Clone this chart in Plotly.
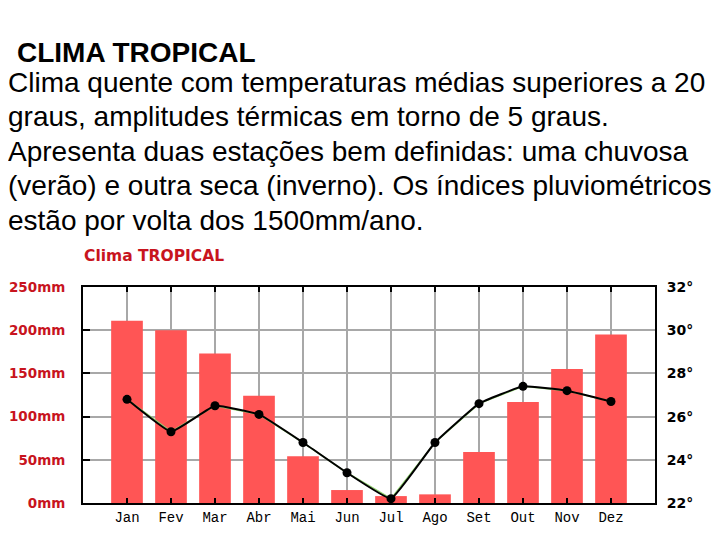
import plotly.graph_objects as go

meses = ['Jan', 'Fev', 'Mar', 'Abr', 'Mai', 'Jun', 'Jul', 'Ago', 'Set', 'Out', 'Nov', 'Dez']
chuva_mm = [211, 200, 173, 124, 54, 15, 8, 10, 59, 117, 155, 195]
temp_c = [26.8, 25.3, 26.5, 26.1, 24.8, 23.4, 22.2, 24.8, 26.6, 27.4, 27.2, 26.7]

mm_ticks = [0, 50, 100, 150, 200, 250]
temp_ticks = [22, 24, 26, 28, 30, 32]

texto = [
    'Clima quente com temperaturas médias superiores a 20',
    'graus, amplitudes térmicas em torno de 5 graus.',
    'Apresenta duas estações bem definidas: uma chuvosa',
    '(verão) e outra seca (inverno). Os índices pluviométricos',
    'estão por volta dos 1500mm/ano.',
]

# page body has an 8px margin, so figure coords = screen coords - 8
OFF = 8
W, H = 720, 540
L, R, T, B = 75, 73, 279, 45
red = '#c8141e'


def px(x):
    return (x - OFF - L) / (W - L - R)


def py(y):
    return (H - B - (y - OFF)) / (H - T - B)


fig = go.Figure()
fig.add_bar(x=meses, y=chuva_mm, marker=dict(color='#ff5555', line=dict(width=0)),
            width=0.72, yaxis='y')
fig.add_scatter(x=meses, y=temp_c, mode='lines', line=dict(color='#90d070', width=1.5),
                yaxis='y2', hoverinfo='skip')
fig.add_scatter(x=meses, y=temp_c, mode='lines+markers', yaxis='y2',
                line=dict(color='black', width=2, shape='spline', smoothing=0.3),
                marker=dict(color='black', size=9))

# text block above the chart
fonte = 'Liberation Sans, Arial'
ann = [dict(text='<b>CLIMA TROPICAL</b>', x=px(15), y=py(53), xanchor='left', yanchor='middle',
            font=dict(family=fonte, size=28, color='black'))]
for i, linha in enumerate(texto):
    ann.append(dict(text=linha, x=px(6), y=py(82.5 + i * 34.4), xanchor='left', yanchor='middle',
                    font=dict(family=fonte, size=28, color='black')))
ann.append(dict(text='<b>Clima TROPICAL</b>', x=px(82), y=py(256), xanchor='left', yanchor='middle',
                font=dict(family='DejaVu Sans', size=15.5, color=red)))
for a in ann:
    a.update(xref='paper', yref='paper', showarrow=False)

fig.update_layout(
    width=W, height=H,
    margin=dict(l=L, r=R, t=T, b=B, autoexpand=False),
    paper_bgcolor='white', plot_bgcolor='white',
    showlegend=False,
    annotations=ann,
    xaxis=dict(type='category', range=[-1, 12], showgrid=True, gridcolor='#a8a8a8', gridwidth=1.5,
               showline=True, linecolor='black', linewidth=2, mirror='ticks',
               ticks='inside', ticklen=5, tickwidth=2, tickcolor='black',
               tickfont=dict(family='Liberation Mono, DejaVu Sans Mono', size=14, color='black'),
               ticklabelstandoff=0, automargin=False),
    yaxis=dict(range=[0, 250], tickvals=mm_ticks, ticktext=[f'{v}mm' for v in mm_ticks],
               showgrid=True, gridcolor='#a8a8a8', gridwidth=1.5, zeroline=False,
               showline=True, linecolor='black', linewidth=2,
               ticks='inside', ticklen=7, tickwidth=1.5, tickcolor='black',
               tickfont=dict(family='DejaVu Sans', size=13.5, color=red, weight='bold'),
               ticklabelstandoff=13, automargin=False),
    yaxis2=dict(range=[22, 32], tickvals=temp_ticks, ticktext=[f'{v}°' for v in temp_ticks],
                overlaying='y', side='right', showgrid=False, zeroline=False,
                showline=True, linecolor='black', linewidth=2, ticks='',
                tickfont=dict(family='DejaVu Sans', size=14, color='black', weight='bold'),
                ticklabelstandoff=7, automargin=False),
)

fig.write_html('out.html')
